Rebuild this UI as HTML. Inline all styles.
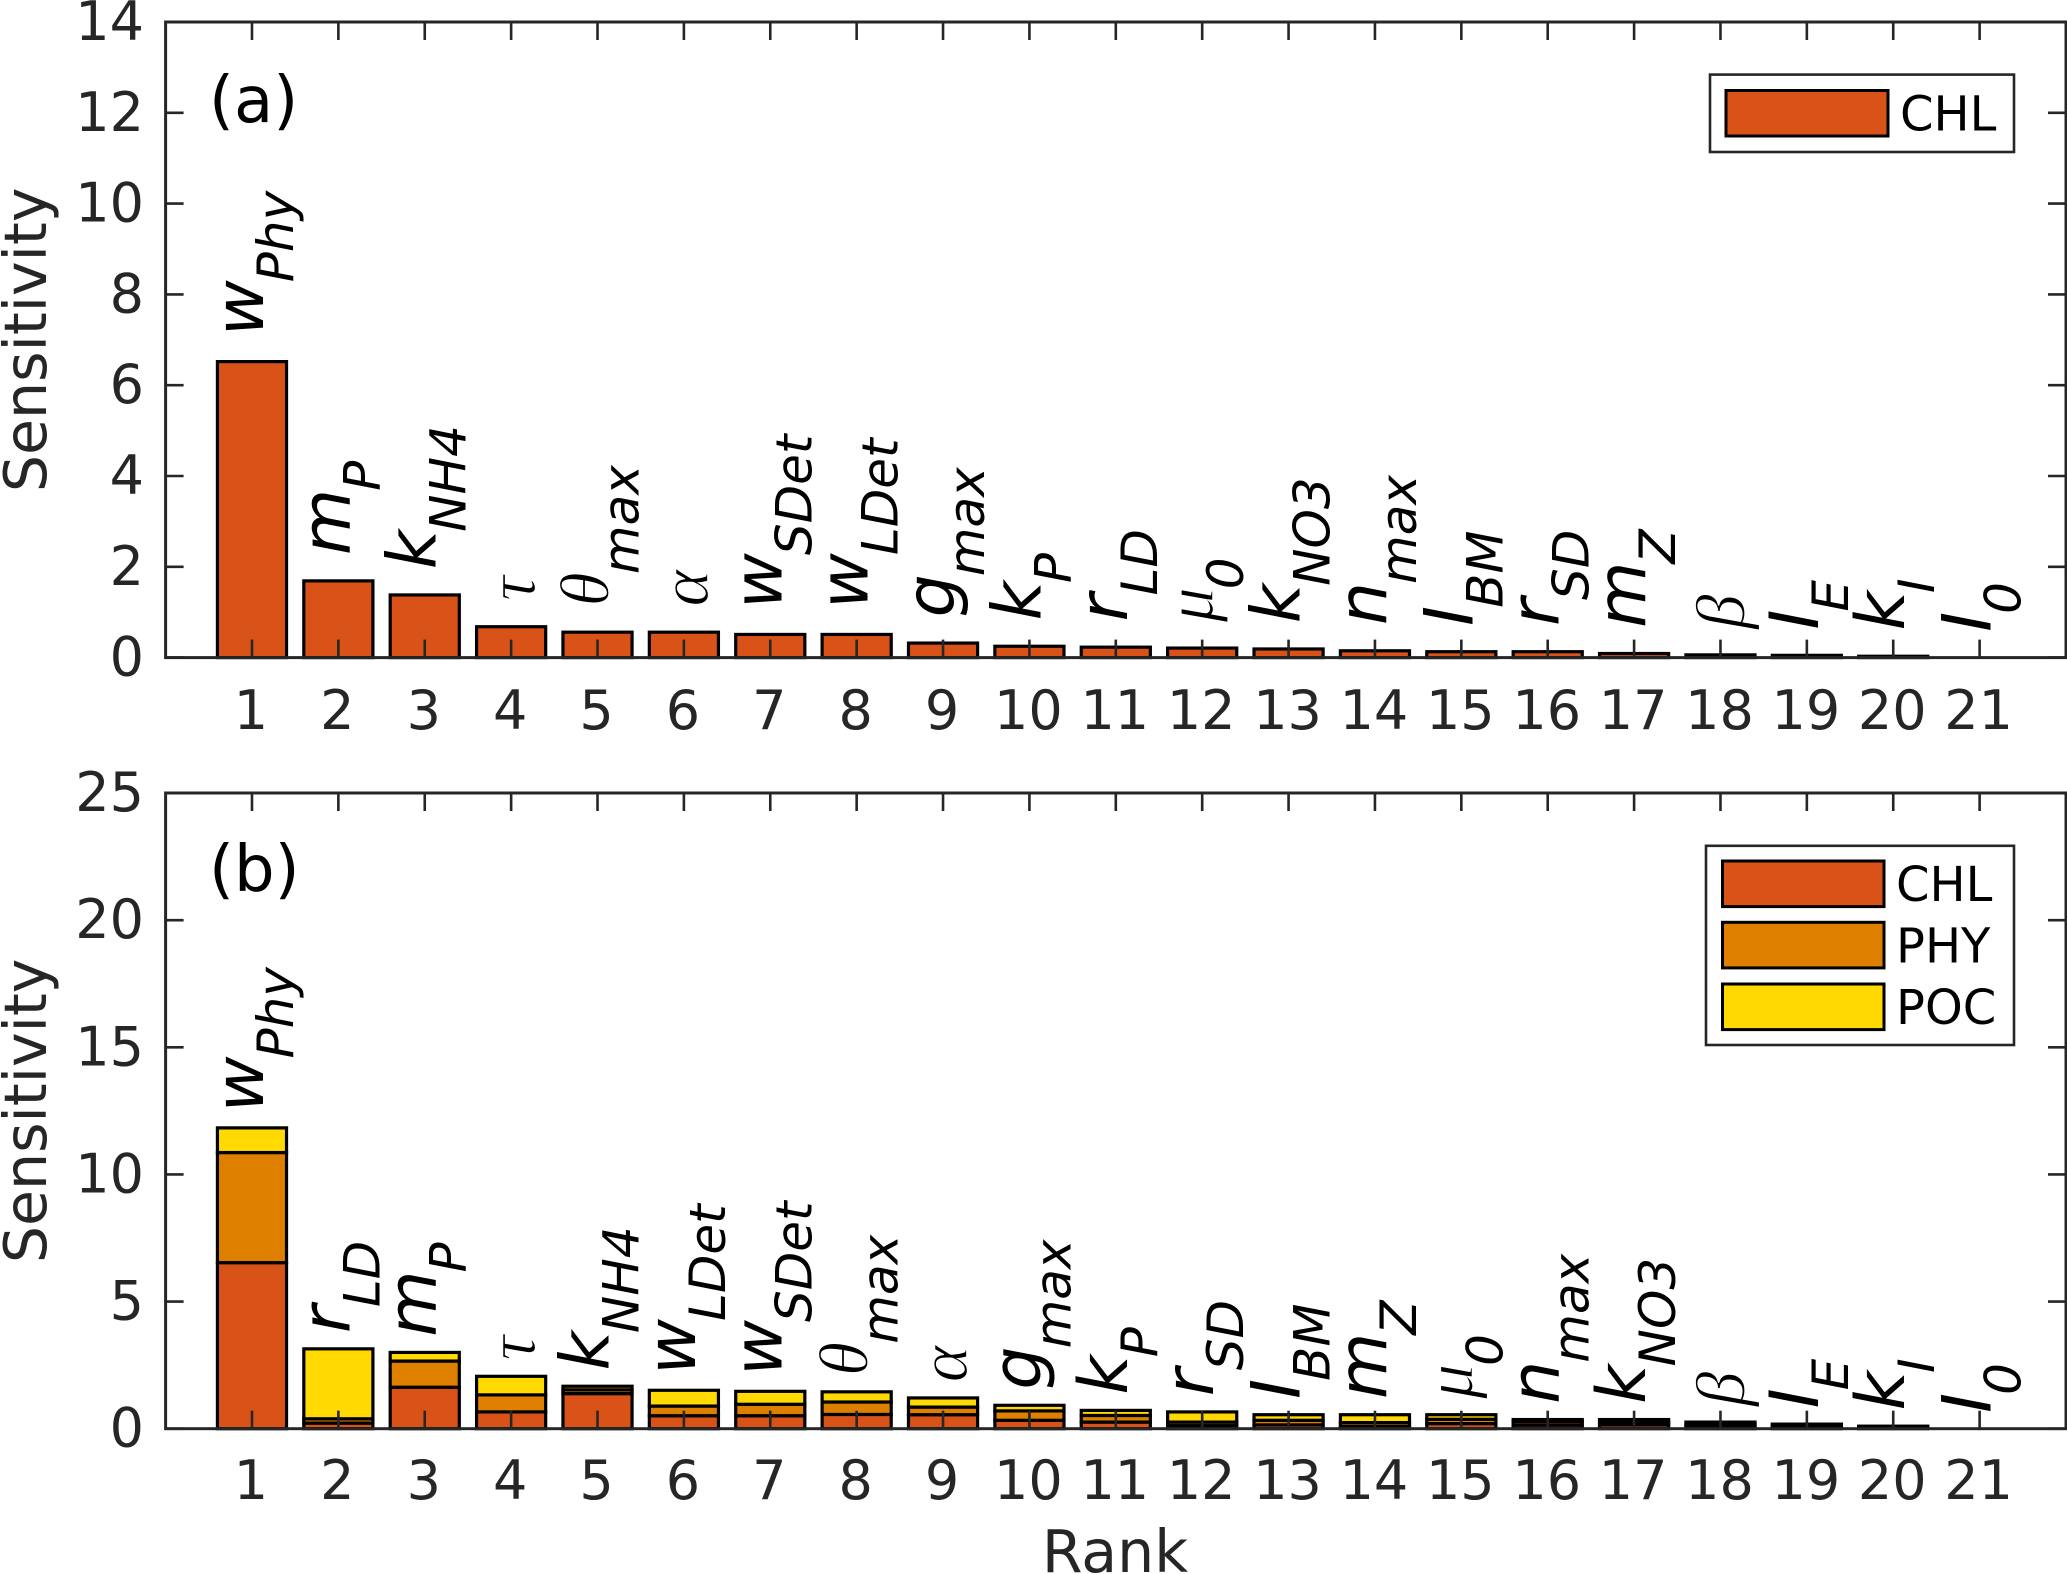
<!DOCTYPE html>
<html lang="en">
<head>
<meta charset="utf-8">
<title>Sensitivity by rank</title>
<style>
  html, body { margin: 0; padding: 0; background: #fff; }
  svg { display: block; }
  text { font-family: "DejaVu Sans", "Liberation Sans", sans-serif; }
</style>
</head>
<body>
<svg id="chart" xmlns="http://www.w3.org/2000/svg" width="2067" height="1574" viewBox="0 0 2067 1574"></svg>
<script>
const rankCategories = ['1','2','3','4','5','6','7','8','9','10','11','12','13','14','15','16','17','18','19','20','21'];
const yTickLabelsA = [0, 2, 4, 6, 8, 10, 12, 14];
const yTickLabelsB = [0, 5, 10, 15, 20, 25];

const paramMainA = ['w','m','k','τ','θ','α','w','w','g','k','r','μ','k','n','I','r','m','β','I','k','I'];
const paramSubA = ['Phy','P','NH4','','max','','SDet','LDet','max','P','LD','0','NO3','max','BM','SD','Z','','E','I','0'];
const paramMainB = ['w','r','m','τ','k','w','w','θ','α','g','k','r','I','m','μ','n','k','β','I','k','I'];
const paramSubB = ['Phy','LD','P','','NH4','LDet','SDet','max','','max','P','SD','BM','Z','0','max','NO3','','E','I','0'];

const chlA = [6.52,1.69,1.38,0.68,0.56,0.56,0.51,0.51,0.32,0.25,0.23,0.21,0.19,0.15,0.13,0.13,0.09,0.06,0.05,0.03,0.0];

const chlB = [6.53,0.22,1.63,0.66,1.38,0.51,0.51,0.56,0.55,0.33,0.26,0.12,0.15,0.09,0.20,0.14,0.15,0.06,0.05,0.03,0.0];
const phyB = [4.33,0.17,1.03,0.67,0.15,0.38,0.45,0.49,0.30,0.37,0.26,0.14,0.18,0.15,0.17,0.14,0.12,0.10,0.07,0.04,0.0];
const pocB = [0.97,2.75,0.34,0.73,0.14,0.62,0.51,0.40,0.36,0.22,0.20,0.40,0.22,0.31,0.18,0.08,0.09,0.10,0.06,0.03,0.0];

const legendLabelsA = ['CHL'];
const legendLabelsB = ['CHL','PHY','POC'];

const COLORS = { CHL: '#D95319', PHY: '#DF7F00', POC: '#FFD900' };
const INK = '#262626';
const SVGNS = 'http://www.w3.org/2000/svg';
const GREEK = 'τθαμβ';
const svg = document.getElementById('chart');

const AX_LEFT = 165.6, AX_RIGHT = 2066;
const xMax = 22;
function xScale(r) { return AX_LEFT + (r / xMax) * (AX_RIGHT - AX_LEFT); }

function mk(tag, attrs, parent) {
  const el = document.createElementNS(SVGNS, tag);
  for (const k in attrs) el.setAttribute(k, attrs[k]);
  parent.appendChild(el);
  return el;
}

function drawPanel(id, top, bottom, yMax, yTicks, series, mains, subs, tag, tagY, tickLabelY) {
  const yScale = v => bottom - (v / yMax) * (bottom - top);
  const panel = mk('g', {}, svg);
  
  

  const barWidth = 0.8 * (xScale(1) - xScale(0));
  rankCategories.forEach((cat, i) => {
    const rank = i + 1;
    let base = 0;
    series.forEach(s => {
      const v = s.values[i];
      const rect = mk('rect', {
        x: xScale(rank) - barWidth / 2,
        y: yScale(base + v),
        width: barWidth,
        height: Math.abs(yScale(base) - yScale(base + v)),
        fill: COLORS[s.name],
        stroke: '#000',
        'stroke-width': 3.2
      }, panel);
      
      
      base += v;
    });

    const main = mains[i];
    const sub = subs[i];
    const isGreek = GREEK.indexOf(main) >= 0;
    const baseX = xScale(rank) + (sub ? 11 : 24);
    const startY = yScale(base + 0.5) - 3;
    const label = mk('text', {
      transform: 'translate(' + baseX + ',' + startY + ') rotate(-90)',
      fill: '#000',
      'font-size': 68,
      'font-style': 'italic'
    }, panel);
    
    
    const mainSpan = mk('tspan', {}, label);
    if (isGreek) {
      mainSpan.setAttribute('style', 'font-family:"Liberation Serif",serif;stroke:#fff;stroke-width:1.2px');
      mainSpan.setAttribute('font-size', '70');
    }
    mainSpan.textContent = main;
    if (sub) {
      const subSpan = mk('tspan', { dy: 30, dx: -2, 'font-size': 50 }, label);
      subSpan.textContent = sub;
    }
  });

  const frame = mk('rect', {
    x: AX_LEFT, y: top, width: AX_RIGHT - AX_LEFT, height: bottom - top,
    fill: 'none', stroke: INK, 'stroke-width': 3
  }, panel);
  
  

  const tickLen = 18;
  rankCategories.forEach((cat, i) => {
    const x = xScale(i + 1);
    const t1 = mk('line', { x1: x, x2: x, y1: bottom, y2: bottom - tickLen, stroke: INK, 'stroke-width': 2.6 }, panel);
    
    
    const t2 = mk('line', { x1: x, x2: x, y1: top, y2: top + tickLen, stroke: INK, 'stroke-width': 2.6 }, panel);
    
    
    const tl = mk('text', { x: x - 1, y: tickLabelY, 'text-anchor': 'middle', 'font-size': 54, fill: INK }, panel);
    
    
    tl.textContent = cat;
  });

  yTicks.forEach(v => {
    const y = yScale(v);
    const t1 = mk('line', { x1: AX_LEFT, x2: AX_LEFT + tickLen, y1: y, y2: y, stroke: INK, 'stroke-width': 2.6 }, panel);
    
    
    const t2 = mk('line', { x1: AX_RIGHT, x2: AX_RIGHT - tickLen, y1: y, y2: y, stroke: INK, 'stroke-width': 2.6 }, panel);
    
    
    const tl = mk('text', { x: 144, y: y + 18, 'text-anchor': 'end', 'font-size': 54, fill: INK }, panel);
    
    
    tl.textContent = v;
  });

  const yTitle = mk('text', {
    transform: 'translate(46,' + ((top + bottom) / 2) + ') rotate(-90)',
    'text-anchor': 'middle', 'font-size': 58.5, fill: INK
  }, panel);
  
  
  yTitle.textContent = 'Sensitivity';

  const tagText = mk('text', { x: 209, y: tagY, 'font-size': 64, fill: '#000' }, panel);
  
  
  tagText.textContent = tag;
  return panel;
}

function drawLegend(id, parent, bx, by, bw, bh, patchX, patchW, patchH, rows, labels, textX) {
  const g = mk('g', {}, parent);
  
  
  const box = mk('rect', { x: bx, y: by, width: bw, height: bh, fill: '#fff', stroke: INK, 'stroke-width': 2.6 }, g);
  
  
  labels.forEach((name, i) => {
    const patch = mk('rect', { x: patchX, y: rows[i], width: patchW, height: patchH, fill: COLORS[name], stroke: '#000', 'stroke-width': 3 }, g);
    
    
    const txt = mk('text', { x: textX, y: rows[i] + 40, 'font-size': 48, fill: '#000' }, g);
    
    
    txt.textContent = name;
  });
}

const panelA = drawPanel('a', 22, 657.6, 14, yTickLabelsA,
  [{ name: 'CHL', values: chlA }], paramMainA, paramSubA, '(a)', 122, 729);
drawLegend('a', panelA, 1710, 74.6, 304, 77.4, 1726, 162, 45.5, [90.5], legendLabelsA, 1900);

const panelB = drawPanel('b', 793, 1428.7, 25, yTickLabelsB,
  [{ name: 'CHL', values: chlB }, { name: 'PHY', values: phyB }, { name: 'POC', values: pocB }],
  paramMainB, paramSubB, '(b)', 891, 1499);
drawLegend('b', panelB, 1706, 845.8, 308, 199.2, 1722.5, 161.5, 45.6, [861, 922.3, 984], legendLabelsB, 1896);

const xTitle = mk('text', { x: 1115, y: 1572, 'text-anchor': 'middle', 'font-size': 58.5, fill: INK }, svg);


xTitle.textContent = 'Rank';
</script>
</body>
</html>
